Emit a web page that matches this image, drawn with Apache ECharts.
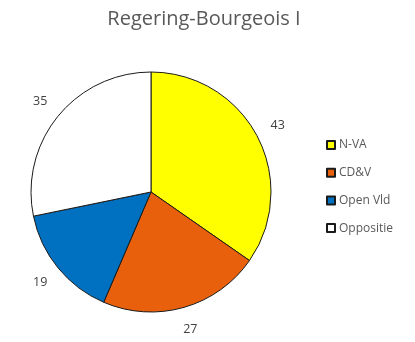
<!DOCTYPE html>
<html><head><meta charset="utf-8">
<script src="https://cdn.jsdelivr.net/npm/echarts@6/dist/echarts.min.js"></script>
<style>html,body{margin:0;padding:0;background:#fff}#c{width:415px;height:342px}</style>
</head><body><div id="c"></div>
<script>
const categories = ["N-VA", "CD&V", "Open Vld", "Oppositie"];
const seats = [43, 27, 19, 35];
const colors = ["#FFFF00", "#E8600C", "#0070C0", "#FFFFFF"];

const chart = echarts.init(document.getElementById('c'), null, {renderer: 'canvas'});
const data = categories.map((n, i) => ({name: n, value: seats[i], itemStyle: {color: colors[i]}}));
chart.setOption({
  animation: false,
  title: {
    text: "Regering-Bourgeois I", left: 199, top: 4, textAlign: 'center',
    textStyle: {fontFamily: "Open Sans", fontSize: 20, fontWeight: 'normal', color: '#595959'}
  },
  legend: {
    orient: 'vertical', left: 321, top: 134, itemWidth: 8, itemHeight: 8, itemGap: 15.7,
    icon: 'rect',
    data: categories,
    textStyle: {fontFamily: "Open Sans", fontSize: 12, color: '#595959', padding: [0,0,0,-1]}
  },
  series: [{
    type: 'pie', center: [151, 192], radius: [0, 120], startAngle: 90, clockwise: true,
    data: data,
    label: {show: false}, labelLine: {show: false},
    itemStyle: {borderColor: '#1a1a1a', borderWidth: 1},
    emphasis: {disabled: true}
  }, {
    type: 'pie', center: [151, 192], radius: [0, 280], startAngle: 90, clockwise: true,
    silent: true, legendHoverLink: false,
    data: categories.map((n, i) => ({name: n + ' ', value: seats[i]})),
    itemStyle: {color: 'rgba(0,0,0,0)', borderWidth: 0},
    label: {show: true, position: 'inside', formatter: '{c}', fontFamily: "Open Sans", fontSize: 12.5, color: '#404040'},
    labelLine: {show: false},
    emphasis: {disabled: true}, z: 1
  }]
});
</script></body></html>
